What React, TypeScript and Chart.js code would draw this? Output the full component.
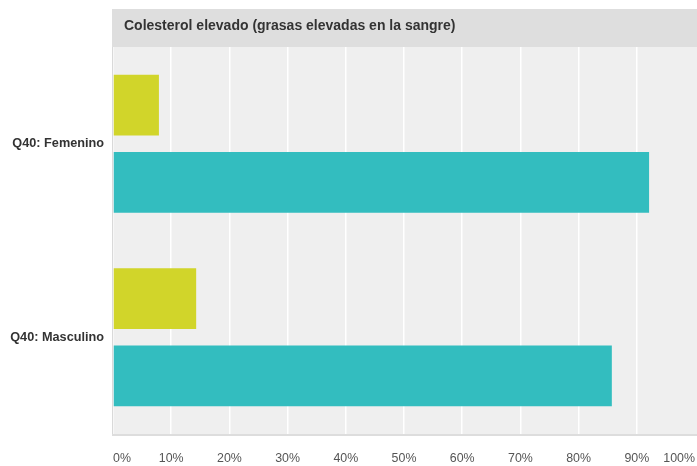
import React, { useEffect, useRef } from "react";
import { Chart, registerables } from "chart.js";

Chart.register(...registerables);

const TITLE = "Colesterol elevado (grasas elevadas en la sangre)";
const categories = ["Q40: Femenino", "Q40: Masculino"];
const seriesYes = [7.89, 14.29];
const seriesNo = [92.11, 85.71];
const tickValues = [0, 10, 20, 30, 40, 50, 60, 70, 80, 90, 100];
const tickLabels = ["0%", "10%", "20%", "30%", "40%", "50%", "60%", "70%", "80%", "90%", "100%"];

const FONT = '"Liberation Sans", Arial, Helvetica, sans-serif';

const decorPlugin = {
  id: "decor",
  beforeDraw(chart: any) {
    const { ctx, chartArea, width } = chart;
    const { left, top, bottom } = chartArea;
    ctx.save();
    ctx.fillStyle = "#efefef";
    ctx.fillRect(left, top, width - left, bottom - top);
    ctx.fillStyle = "#dedede";
    ctx.fillRect(left - 1, 9, width - left + 1, top - 9);
    ctx.fillStyle = "#333333";
    ctx.font = "bold 14px " + FONT;
    ctx.textBaseline = "alphabetic";
    ctx.textAlign = "left";
    ctx.fillText(TITLE, left + 11, 30);
    ctx.restore();
  },
  afterDraw(chart: any) {
    const { ctx, chartArea, width } = chart;
    const { left, top, bottom } = chartArea;
    const xs = chart.scales.x;
    ctx.save();
    ctx.fillStyle = "#d9d9d9";
    ctx.fillRect(left - 1, top, 1, bottom - top + 2);
    ctx.fillStyle = "#dddddd";
    ctx.fillRect(left - 1, bottom, width - left + 1, 2);
    ctx.fillStyle = "#555555";
    ctx.font = "12.4px " + FONT;
    ctx.textBaseline = "alphabetic";
    tickValues.forEach((v, i) => {
      const px = xs.getPixelForValue(v);
      if (i === 0) ctx.textAlign = "left";
      else if (i === tickValues.length - 1) ctx.textAlign = "right";
      else ctx.textAlign = "center";
      ctx.fillText(tickLabels[i], px, 462);
    });
    ctx.restore();
  },
};

export default function App() {
  const ref = useRef<HTMLCanvasElement | null>(null);
  useEffect(() => {
    if (!ref.current) return;
    const chart = new Chart(ref.current, {
      type: "bar",
      data: {
        labels: categories,
        datasets: [
          {
            label: "Sí",
            data: seriesYes,
            backgroundColor: "#d1d52a",
            categoryPercentage: 0.8,
            barPercentage: 0.785,
          },
          {
            label: "No",
            data: seriesNo,
            backgroundColor: "#33bdbf",
            categoryPercentage: 0.8,
            barPercentage: 0.785,
          },
        ],
      },
      options: {
        indexAxis: "y",
        responsive: false,
        animation: false,
        devicePixelRatio: 1,
        layout: { padding: { top: 47, right: 2, left: 0, bottom: 0 } },
        plugins: {
          legend: { display: false },
          tooltip: { enabled: false },
          title: { display: false },
        },
        scales: {
          x: {
            type: "linear",
            min: 0,
            max: 100,
            ticks: { display: false, stepSize: 10 },
            grid: {
              color: (c: any) => (c.tick && c.tick.value === 100 ? "rgba(0,0,0,0)" : "#ffffff"),
              lineWidth: 1.5,
              drawTicks: false,
            },
            border: { display: false },
            afterFit: (s: any) => {
              s.height = 32;
            },
          },
          y: {
            type: "category",
            ticks: {
              color: "#333333",
              font: { family: FONT, size: 12.7, weight: "bold" },
              padding: 9,
            },
            grid: { display: false, drawTicks: false },
            border: { display: false },
            afterFit: (s: any) => {
              s.width = 113;
            },
          },
        },
      },
      plugins: [decorPlugin],
    } as any);
    return () => chart.destroy();
  }, []);
  return (
    <div style={{ position: "absolute", left: 0, top: 0, width: 697, height: 466, background: "#fff" }}>
      <canvas ref={ref} width={697} height={466} style={{ display: "block" }} />
    </div>
  );
}
